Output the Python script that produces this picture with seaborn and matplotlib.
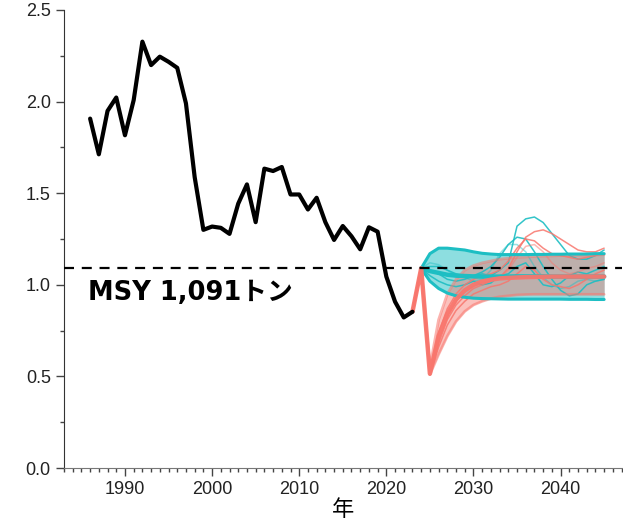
import numpy as np
import pandas as pd
import matplotlib
matplotlib.use("Agg")
import matplotlib.pyplot as plt
import seaborn as sns

# ---------------- data ----------------
hist_years = list(range(1986, 2024))
hist_vals = [1.907, 1.712, 1.949, 2.022, 1.816, 2.008, 2.327, 2.199, 2.245, 2.217,
             2.184, 1.990, 1.588, 1.300, 1.318, 1.311, 1.278, 1.443, 1.548, 1.342,
             1.634, 1.621, 1.643, 1.493, 1.493, 1.411, 1.475, 1.342, 1.245, 1.321,
             1.265, 1.194, 1.314, 1.290, 1.045, 0.908, 0.822, 0.853]

cyan_years = list(range(2024, 2046))
cyan_mean = [1.09, 1.075, 1.065, 1.055, 1.05, 1.048, 1.046, 1.045, 1.045, 1.045, 1.045,
             1.046, 1.046, 1.046, 1.046, 1.045, 1.045, 1.045, 1.045, 1.045, 1.045, 1.045]
cyan_lo = [1.09, 1.02, 0.98, 0.955, 0.94, 0.932, 0.927, 0.925, 0.924, 0.923, 0.922,
           0.922, 0.922, 0.922, 0.922, 0.922, 0.922, 0.921, 0.921, 0.921, 0.92, 0.92]
cyan_hi = [1.09, 1.17, 1.20, 1.20, 1.195, 1.19, 1.18, 1.172, 1.168, 1.165, 1.165,
           1.165, 1.165, 1.166, 1.166, 1.167, 1.167, 1.168, 1.168, 1.168, 1.17, 1.17]
cyan_runs = [
    [1.09, 1.10, 1.10, 1.08, 1.06, 1.05, 1.05, 1.06, 1.05, 1.08, 1.12,
     1.32, 1.36, 1.37, 1.34, 1.28, 1.22, 1.16, 1.14, 1.14, 1.16, 1.19],
    [1.09, 1.08, 1.06, 1.03, 1.02, 1.03, 1.05, 1.07, 1.10, 1.15, 1.22,
     1.26, 1.25, 1.18, 1.10, 1.03, 0.97, 0.94, 0.95, 1.00, 1.02, 1.03],
    [1.09, 1.12, 1.11, 1.08, 1.05, 1.04, 1.02, 1.03, 1.08, 1.17, 1.22,
     1.22, 1.18, 1.10, 1.04, 1.00, 0.98, 0.99, 1.02, 1.03, 1.02, 1.03],
    [1.09, 1.05, 1.02, 1.00, 0.99, 1.00, 1.02, 1.00, 1.01, 1.05, 1.06,
     1.10, 1.12, 1.06, 1.00, 0.99, 1.01, 1.05, 1.07, 1.06, 1.08, 1.10],
]

red_years = list(range(2023, 2046))
red_mean = [0.853, 1.09, 0.515, 0.72, 0.84, 0.92, 0.97, 1.0, 1.018, 1.028, 1.035, 1.038,
            1.04, 1.042, 1.043, 1.044, 1.045, 1.045, 1.045, 1.045, 1.045, 1.045, 1.045]
red_lo = [0.853, 1.09, 0.51, 0.62, 0.72, 0.80, 0.855, 0.89, 0.91, 0.925, 0.935, 0.94,
          0.945, 0.947, 0.948, 0.948, 0.948, 0.948, 0.948, 0.948, 0.948, 0.948, 0.948]
red_hi = [0.853, 1.09, 0.55, 0.81, 0.95, 1.03, 1.08, 1.105, 1.12, 1.13, 1.14, 1.145,
          1.15, 1.152, 1.155, 1.157, 1.158, 1.16, 1.16, 1.162, 1.162, 1.163, 1.165]
red_runs = [
    [0.853, 1.09, 0.51, 0.68, 0.81, 0.89, 0.94, 0.98, 1.00, 1.02, 1.04, 1.09,
     1.18, 1.26, 1.29, 1.30, 1.28, 1.25, 1.22, 1.19, 1.18, 1.18, 1.20],
    [0.853, 1.09, 0.51, 0.74, 0.87, 0.95, 1.00, 1.03, 1.05, 1.06, 1.08, 1.13,
     1.20, 1.25, 1.24, 1.20, 1.17, 1.16, 1.15, 1.14, 1.15, 1.16, 1.17],
    [0.853, 1.09, 0.51, 0.66, 0.78, 0.86, 0.91, 0.95, 0.97, 0.99, 1.00, 1.02,
     1.06, 1.10, 1.08, 1.03, 1.00, 0.99, 0.98, 1.00, 1.03, 1.06, 1.08],
    [0.853, 1.09, 0.51, 0.70, 0.83, 0.91, 0.96, 0.99, 1.01, 1.02, 1.04, 1.08,
     1.15, 1.21, 1.22, 1.18, 1.12, 1.08, 1.06, 1.07, 1.09, 1.10, 1.12],
]

msy = 1.091
msy_label = "MSY 1,091トン"
x_label = "年"
x_ticks = [1990, 2000, 2010, 2020, 2030, 2040]
y_ticks = [0.0, 0.5, 1.0, 1.5, 2.0, 2.5]

# ---------------- style ----------------
sns.set_style("ticks")
plt.rcParams["font.family"] = ["Liberation Sans", "DejaVu Sans"]
plt.rcParams["text.color"] = "black"
plt.rcParams["axes.labelcolor"] = "black"
plt.rcParams["xtick.labelcolor"] = "#222"
plt.rcParams["ytick.labelcolor"] = "#222"

CYAN = "#1DBEC3"
RED = "#F8766D"

fig = plt.figure(figsize=(6.23, 5.23), dpi=100)
ax = fig.add_axes([0.1027, 0.105, 0.895, 0.876])

# bands
ax.fill_between(cyan_years, cyan_lo, cyan_hi, color=CYAN, alpha=0.5, lw=0, zorder=1)
ax.fill_between(red_years, red_lo, red_hi, color=RED, alpha=0.45, lw=0, zorder=2)

# individual runs
for i, r in enumerate(cyan_runs):
    sns.lineplot(x=cyan_years, y=r, ax=ax, color=CYAN, lw=1.1,
                 alpha=0.45 if i == 2 else 0.9, zorder=3)
for i, r in enumerate(red_runs):
    sns.lineplot(x=red_years, y=r, ax=ax, color=RED, lw=1.1,
                 alpha=0.5 if i == 3 else 0.85, zorder=3)

# band edges
for edge in (red_lo, red_hi):
    sns.lineplot(x=red_years, y=edge, ax=ax, color=RED, lw=2.0, alpha=0.55, zorder=4)
for edge in (cyan_lo, cyan_hi):
    sns.lineplot(x=cyan_years, y=edge, ax=ax, color=CYAN, lw=2.2, zorder=4)

# means
sns.lineplot(x=cyan_years, y=cyan_mean, ax=ax, color=CYAN, lw=3.2, zorder=5)
sns.lineplot(x=red_years, y=red_mean, ax=ax, color=RED, lw=3.2, alpha=0.95, zorder=6)

# history
sns.lineplot(x=hist_years, y=hist_vals, ax=ax, color="black", lw=3.0, zorder=7)

# MSY line
ax.axhline(msy, color="black", lw=1.6, ls=(0, (4.5, 3.5)), zorder=8)
ax.text(1985.7, 0.955, msy_label, ha="left", va="center", fontsize=18.5,
        fontweight="bold", color="black",
        family=["DejaVu Sans", "Noto Sans CJK JP"], zorder=9)

# axes
ax.set_xlim(1983, 2047)
ax.set_ylim(0, 2.5)
ax.set_xticks(x_ticks)
ax.set_xticks(np.arange(1983, 2048, 1), minor=True)
ax.set_yticks(y_ticks)
ax.set_yticks(np.arange(0.25, 2.5, 0.5), minor=True)
ax.set_yticklabels([f"{v:.1f}" for v in y_ticks])
ax.tick_params(axis="both", which="major", labelsize=13, length=6, width=1, color="#444")
ax.tick_params(axis="both", which="minor", length=3, width=1, color="#444")
ax.set_xlabel(x_label, fontsize=16, family=["Noto Sans CJK JP"], labelpad=0, color="black")
ax.set_ylabel("")
for s in ("top", "right"):
    ax.spines[s].set_visible(False)
ax.spines["left"].set_color("#333")
ax.spines["bottom"].set_color("#777")

fig.savefig("out.png", dpi=100)
